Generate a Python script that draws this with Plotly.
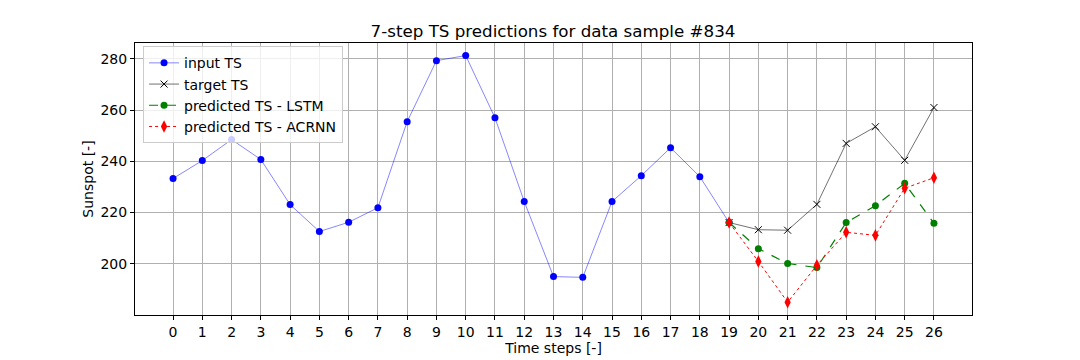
import plotly.graph_objects as go

steps_input = list(range(0, 20))
input_ts = [233.3, 240.3, 248.5, 240.7, 223.1, 212.6, 216.2, 221.9, 255.5, 279.3,
            281.3, 257.0, 224.3, 195.0, 194.7, 224.3, 234.4, 245.3, 234.0, 216.1]

steps_pred = list(range(19, 27))
target_ts = [216.1, 213.3, 213.1, 223.2, 247.0, 253.5, 240.4, 261.0]
lstm_ts = [216.1, 205.9, 200.1, 198.5, 216.1, 222.7, 231.4, 215.8]
acrnn_ts = [216.1, 200.9, 185.0, 199.4, 212.3, 211.1, 229.5, 233.6]

x_ticks = list(range(0, 27))
y_ticks = [200, 220, 240, 260, 280]

fig = go.Figure()
fig.add_trace(go.Scatter(x=steps_input, y=input_ts, mode="lines+markers", name="input TS",
                         line=dict(color="rgba(0,0,255,0.6)", width=0.8),
                         marker=dict(color="blue", size=7, symbol="circle")))
fig.add_trace(go.Scatter(x=steps_pred, y=target_ts, mode="lines+markers", name="target TS",
                         line=dict(color="rgba(0,0,0,0.7)", width=0.8),
                         marker=dict(color="black", size=7, symbol="x-thin-open",
                                     line=dict(color="black", width=1))))
fig.add_trace(go.Scatter(x=steps_pred, y=lstm_ts, mode="lines+markers", name="predicted TS - LSTM",
                         line=dict(color="green", width=1.2, dash="dash"),
                         marker=dict(color="green", size=7, symbol="circle")))
fig.add_trace(go.Scatter(x=steps_pred, y=acrnn_ts, mode="lines+markers", name="predicted TS - ACRNN",
                         line=dict(color="red", width=1, dash="dot"),
                         marker=dict(color="red", size=9, symbol="diamond-tall")))

font = "DejaVu Sans, sans-serif"
# the page adds an 8 px body margin, so the figure is sized to fit the remaining window
fig.update_layout(
    width=1072, height=352,
    margin=dict(l=127, r=108, t=35, b=45, autoexpand=False),
    paper_bgcolor="white", plot_bgcolor="white",
    font=dict(family=font, size=14, color="black"),
    title=dict(text="7-step TS predictions for data sample #834", x=(127 + 418) / 1072,
               xanchor="center", xref="container",
               yref="container", y=1 - 23 / 352, yanchor="middle", font=dict(size=16.7),
               automargin=False),
    showlegend=True,
    legend=dict(x=0.0096, y=0.988, xanchor="left", yanchor="top",
                bgcolor="rgba(255,255,255,0.8)", bordercolor="#cccccc", borderwidth=1,
                font=dict(size=14), tracegroupgap=0, itemwidth=30),
)
fig.update_xaxes(range=[-1.3, 27.3], tickvals=x_ticks, ticktext=[str(v) for v in x_ticks],
                 showgrid=True, gridcolor="#b0b0b0", gridwidth=1, automargin=False,
                 showline=True, linecolor="black", linewidth=1, mirror=True,
                 ticks="outside", ticklen=4, tickcolor="black", zeroline=False,
                 title=dict(text="Time steps [-]", standoff=0, font=dict(size=14)),
                 tickfont=dict(size=14))
fig.update_yaxes(range=[180.0, 286.2], tickvals=y_ticks, ticktext=[str(v) for v in y_ticks],
                 showgrid=True, gridcolor="#b0b0b0", gridwidth=1, automargin=False,
                 showline=True, linecolor="black", linewidth=1, mirror=True,
                 ticks="outside", ticklen=4, tickcolor="black", zeroline=False,
                 title=dict(text="Sunspot [-]", standoff=3, font=dict(size=14)),
                 tickfont=dict(size=14))

fig.write_html("out.html")
